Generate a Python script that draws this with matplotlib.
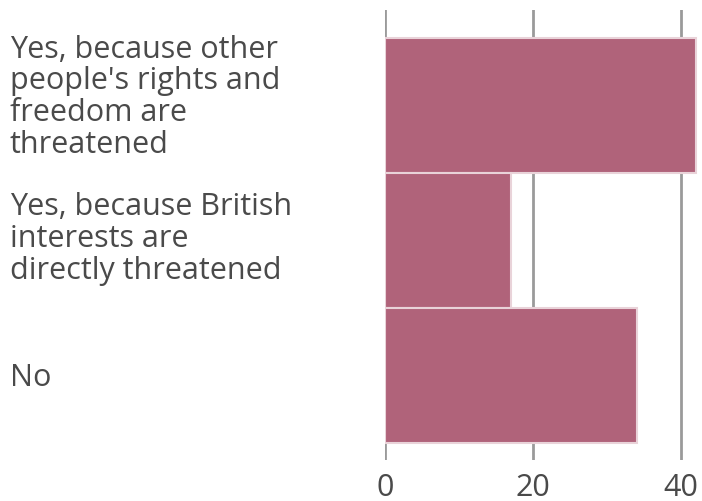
import numpy as np
from matplotlib import pyplot as plt
from matplotlib.transforms import blended_transform_factory

categories = [
    "Yes, because other\npeople's rights and\nfreedom are\nthreatened",
    "Yes, because British\ninterests are\ndirectly threatened",
    "No",
]
values = [42, 17, 34]
ticks = [0, 20, 40]

plt.rcParams['font.family'] = ['Open Sans', 'DejaVu Sans']

fig = plt.figure(figsize=(7.02, 5.01), dpi=100)
# axes box in figure fractions (x from 0 at px 385, top of gridlines at px 10)
ax = fig.add_axes([385 / 702, 1 - 460 / 501, 315 / 702, 450 / 501])

y = np.arange(len(values))
ax.barh(y, values, height=1.0, color="#b0637a", edgecolor="#e9d3d9", linewidth=1.5, zorder=2)

ax.set_xlim(0, 315 / 7.4)
ax.set_ylim(2.626, -0.707)
ax.set_xticks(ticks)
ax.set_xticklabels([str(t) for t in ticks])
ax.set_yticks([])
ax.tick_params(axis='x', length=0, pad=9, labelsize=22, labelcolor="#4a4a4a")
ax.grid(axis='x', color="#9a9a9a", linewidth=2.0, zorder=0)
ax.set_axisbelow(True)
for s in ax.spines.values():
    s.set_visible(False)

trans = blended_transform_factory(fig.transFigure, ax.transData)
offsets = [-0.06, -0.01, 0.02]
for yi, lab, off in zip(y, categories, offsets):
    ax.text(10 / 702, yi + off, lab, transform=trans, ha='left', va='center',
            fontsize=22, color="#4a4a4a", linespacing=1.08)

fig.savefig("out.png", dpi=100)
